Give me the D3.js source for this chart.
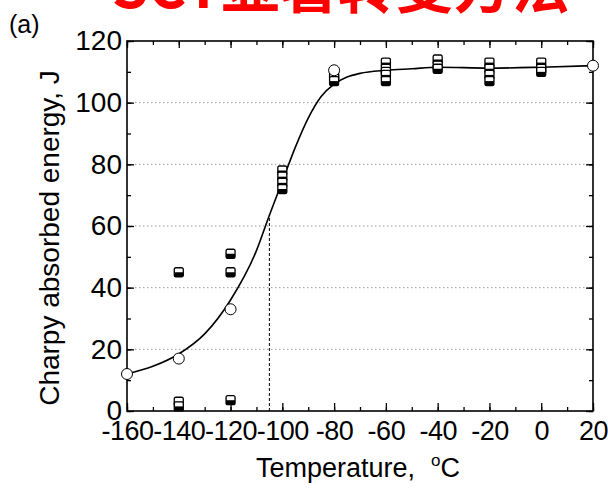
<!DOCTYPE html>
<html>
  <head>
    <meta charset="utf-8" />
    <title>Charpy absorbed energy vs temperature</title>
    <script src="https://d3js.org/d3.v7.min.js"></script>
    <style>
      body { margin: 0; background: #fff; }
      svg { display: block; font-family: "Liberation Sans", Arial, sans-serif; }
    </style>
  </head>
  <body>
    <svg></svg>
    <script>
      // data
      const xTicks = [-160, -140, -120, -100, -80, -60, -40, -20, 0, 20];
      const yTicks = [0, 20, 40, 60, 80, 100, 120];
      const gridValues = [20, 40, 60, 80, 100];

      // individual specimens (half-filled squares)
      const sqTemp = [-140, -140, -140, -120, -120, -120,
                      -100, -100, -100, -100,
                      -80, -80, -80,
                      -60, -60, -60, -60, -60,
                      -40, -40, -40,
                      -20, -20, -20, -20,
                      0, 0, 0];
      const sqEnergy = [45, 3, 1.5, 51, 45, 3.5,
                        78, 76, 74, 72,
                        109, 108, 107,
                        113, 111, 110, 109, 107,
                        114, 112, 111,
                        113, 111, 109, 107,
                        113, 111, 110];

      // average values (open circles)
      const avgTemp = [-160, -140, -120, -80, 20];
      const avgEnergy = [12, 17, 33, 110.5, 112];

      // fitted transition curve
      const fitTemp = [-160, -150, -140, -130, -120, -110, -105, -100, -95, -90, -85, -80, -75, -70, -60, -50, -40, -20, 0, 20];
      const fitEnergy = [12, 14.5, 18.5, 25, 36, 52, 63.5, 74.5, 85.5, 95, 102, 106, 108.3, 109.5, 110.5, 111, 111.5, 111.2, 111.5, 112];

      // transition temperature marker
      const ttTemp = -105;
      const ttEnergy = 63.5;

      const W = 608, H = 493;
      const svg = d3.select("svg").attr("width", W).attr("height", H);

      const x = d3.scaleLinear().domain([-160, 20]).range([127, 593]);
      const y = d3.scaleLinear().domain([0, 120]).range([411, 41]);

      // red heading, mostly above the frame
      svg.append("text")
        .attr("x", 112)
        .attr("y", 8)
        .attr("fill", "#f00")
        .attr("font-size", 58)
        .attr("font-weight", "bold")
        .attr("font-family", "'Noto Sans CJK SC', sans-serif")
        .text("SCT显著转变方法");

      svg.append("text")
        .attr("x", 9)
        .attr("y", 33)
        .attr("font-size", 25)
        .text("(a)");

      // dotted grid
      svg.append("g")
        .selectAll("line")
        .data(gridValues)
        .join("line")
        .attr("x1", x(-160))
        .attr("x2", x(20))
        .attr("y1", d => y(d))
        .attr("y2", d => y(d))
        .attr("stroke", "#999")
        .attr("stroke-width", 1)
        .attr("stroke-dasharray", "1.5,2.5");

      // minor ticks every 10
      const minorX = d3.range(-160, 21, 10);
      const minorY = d3.range(0, 121, 10);
      svg.append("g").attr("transform", `translate(0,${y(0)})`)
        .call(d3.axisBottom(x).tickValues(minorX).tickSize(-4).tickFormat(""));
      svg.append("g").attr("transform", `translate(0,${y(120)})`)
        .call(d3.axisTop(x).tickValues(minorX).tickSize(-4).tickFormat(""));
      svg.append("g").attr("transform", `translate(${x(-160)},0)`)
        .call(d3.axisLeft(y).tickValues(minorY).tickSize(-4).tickFormat(""));
      svg.append("g").attr("transform", `translate(${x(20)},0)`)
        .call(d3.axisRight(y).tickValues(minorY).tickSize(-4).tickFormat(""));

      // major axes
      const label = d => String(d);
      const xAxis = svg.append("g").attr("transform", `translate(0,${y(0)})`)
        .call(d3.axisBottom(x).tickValues(xTicks).tickSize(-8).tickPadding(10).tickFormat(label));
      const yAxis = svg.append("g").attr("transform", `translate(${x(-160)},0)`)
        .call(d3.axisLeft(y).tickValues(yTicks).tickSize(-7).tickPadding(5).tickFormat(label));
      svg.append("g").attr("transform", `translate(${x(20)},0)`)
        .call(d3.axisRight(y).tickValues(yTicks).tickSize(-7).tickFormat(""));
      svg.append("g").attr("transform", `translate(0,${y(120)})`)
        .call(d3.axisTop(x).tickValues(xTicks).tickSize(-7).tickFormat(""));

      svg.selectAll(".tick line").attr("stroke", "#000").attr("stroke-width", 1.3);
      svg.selectAll(".domain").remove();
      xAxis.selectAll("text").attr("font-size", 27).attr("letter-spacing", "-0.5px");
      yAxis.selectAll("text").attr("font-size", 28);
      [xAxis, yAxis].forEach(a => a.selectAll("text")
        .attr("font-family", "'Liberation Sans', Arial, sans-serif")
        .attr("fill", "#000"));

      // frame
      svg.append("rect")
        .attr("x", x(-160))
        .attr("y", y(120))
        .attr("width", x(20) - x(-160))
        .attr("height", y(0) - y(120))
        .attr("fill", "none")
        .attr("stroke", "#000")
        .attr("stroke-width", 1.6);

      // dashed transition marker
      svg.append("line")
        .attr("x1", x(ttTemp)).attr("x2", x(ttTemp))
        .attr("y1", y(0)).attr("y2", y(ttEnergy))
        .attr("stroke", "#000")
        .attr("stroke-width", 1)
        .attr("stroke-dasharray", "3,2");

      // fitted curve
      const fit = fitTemp.map((t, i) => [t, fitEnergy[i]]);
      svg.append("path")
        .datum(fit)
        .attr("fill", "none")
        .attr("stroke", "#000")
        .attr("stroke-width", 1.6)
        .attr("d", d3.line().x(d => x(d[0])).y(d => y(d[1])).curve(d3.curveMonotoneX));

      // half-filled squares
      const sq = sqTemp.map((t, i) => [t, sqEnergy[i]]);
      const s = 4.5;
      const mk = svg.append("g").selectAll("g").data(sq).join("g")
        .attr("transform", d => `translate(${x(d[0])},${y(d[1])})`);
      mk.append("rect")
        .attr("x", -s).attr("y", -s).attr("width", 2 * s).attr("height", 2 * s)
        .attr("rx", 1.5)
        .attr("fill", "#fff").attr("stroke", "#000").attr("stroke-width", 1.3);
      mk.append("rect")
        .attr("x", -s).attr("y", 0).attr("width", 2 * s).attr("height", s)
        .attr("fill", "#000");

      // open circles
      const av = avgTemp.map((t, i) => [t, avgEnergy[i]]);
      svg.append("g").selectAll("circle").data(av).join("circle")
        .attr("cx", d => x(d[0]))
        .attr("cy", d => y(d[1]))
        .attr("r", 5.5)
        .attr("fill", "#fff")
        .attr("stroke", "#000")
        .attr("stroke-width", 1);

      // axis titles
      svg.append("text")
        .attr("transform", "translate(59,238) rotate(-90)")
        .attr("text-anchor", "middle")
        .attr("font-size", 28)
        .text("Charpy absorbed energy, J");

      const xt = svg.append("text")
        .attr("x", 358)
        .attr("y", 477)
        .attr("text-anchor", "middle")
        .attr("font-size", 27);
      xt.append("tspan").text("Temperature,");
      xt.append("tspan").attr("dx", 16).attr("font-size", 17).attr("dy", -11).text("o");
      xt.append("tspan").attr("dy", 11).text("C");
    </script>
  </body>
</html>
